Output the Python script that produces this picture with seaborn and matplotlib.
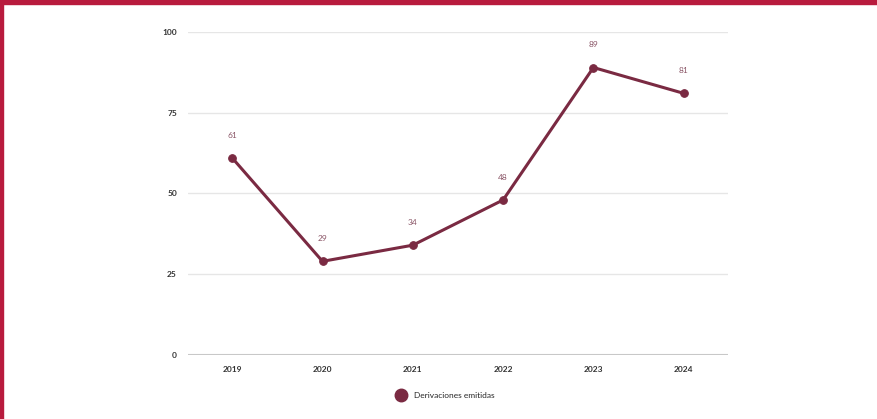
import matplotlib
matplotlib.use("Agg")
import matplotlib.pyplot as plt
import seaborn as sns
import pandas as pd
from matplotlib.patches import Rectangle
from matplotlib.lines import Line2D

years = ["2019", "2020", "2021", "2022", "2023", "2024"]
values = [61, 29, 34, 48, 89, 81]
series_name = "Derivaciones emitidas"
yticks = [0, 25, 50, 75, 100]

df = pd.DataFrame({"year": years, "value": values})

sns.set_theme(style="white")
plt.rcParams["font.family"] = ["Lato", "DejaVu Sans"]

line_color = "#7a2a42"

fig = plt.figure(figsize=(8.78, 4.19), dpi=100)
ax = fig.add_axes([0.2141, 0.1527, 0.615, 0.771])

sns.lineplot(data=df, x="year", y="value", ax=ax, color=line_color,
             linewidth=2.2, marker="o", markersize=5.5,
             markeredgecolor=line_color, sort=False)

for i, v in enumerate(values):
    ax.annotate(str(v), (i, v), xytext=(0, 14), textcoords="offset points",
                ha="center", va="bottom", fontsize=6, color="#8a5566")

ax.set_xlim(-0.49, 5.49)
ax.set_ylim(0, 100)
ax.set_yticks(yticks)
ax.set_yticklabels([str(t) for t in yticks])
ax.set_xlabel("")
ax.set_ylabel("")
for s in ax.spines.values():
    s.set_visible(False)
for t in yticks[1:]:
    ax.axhline(t, color="#e6e6e6", linewidth=1, zorder=0)
ax.axhline(0, color="#c8c8c8", linewidth=1.5, zorder=0)
ax.tick_params(axis="both", length=0, labelsize=6, colors="#333333", pad=8)
for lab in ax.get_xticklabels() + ax.get_yticklabels():
    lab.set_fontweight("bold")

handle = Line2D([], [], marker="o", linestyle="none", markersize=9,
                color=line_color)
fig.legend([handle], [series_name], loc="center", bbox_to_anchor=(0.505, 0.057),
           frameon=False, fontsize=6, handletextpad=0.6)

# decorative frame (top bar and left bar)
fig.patches.append(Rectangle((0, 1 - 4 / 419), 1, 4 / 419, transform=fig.transFigure,
                             color="#b81b3d", zorder=10))
fig.patches.append(Rectangle((0, 0), 2.5 / 878, 1, transform=fig.transFigure,
                             color="#b81b3d", zorder=10))

fig.savefig("out.png", dpi=100)
